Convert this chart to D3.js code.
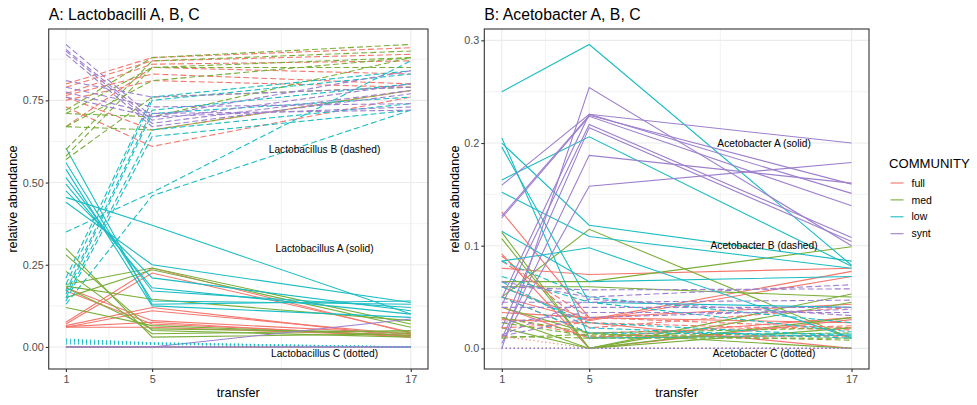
<!DOCTYPE html>
<html>
<head>
<meta charset="utf-8">
<script src="https://cdn.jsdelivr.net/npm/d3@7"></script>
<style>
  body { margin: 0; background: #fff; }
  text { font-family: "Liberation Sans", Arial, sans-serif; }
</style>
</head>
<body>
<svg id="chart" width="977" height="405"></svg>
<script>
// transfers on the x axis and the four communities
var transfers = [1, 5, 17];
var xMinor = [3, 11];
var communities = ["full", "med", "low", "synt"];
var communityColors = ["#F5766D", "#7AAE38", "#1BBDC3", "#9D7FCE"];

var yTicksA = [0, 0.25, 0.5, 0.75];
var yMinorA = [0.125, 0.375, 0.625, 0.875];
var yTicksB = [0, 0.1, 0.2, 0.3];
var yMinorB = [0.05, 0.15, 0.25];

// rows: community, value at transfer 1, 5, 17
var lactoA = [
  ["full", 0.18, 0.08, 0.040], ["full", 0.17, 0.07, 0.035], ["full", 0.075, 0.24, 0.042],
  ["full", 0.07, 0.225, 0.045], ["full", 0.065, 0.12, 0.030], ["full", 0.06, 0.11, 0.038],
  ["full", 0.06, 0.06, 0.034], ["full", 0.062, 0.075, 0.030],
  ["med", 0.30, 0.03, 0.040], ["med", 0.28, 0.05, 0.030], ["med", 0.23, 0.04, 0.050],
  ["med", 0.19, 0.24, 0.070], ["med", 0.185, 0.145, 0.080], ["med", 0.15, 0.235, 0.060],
  ["med", 0.12, 0.065, 0.035], ["med", 0.18, 0.055, 0.045],
  ["low", 0.605, 0.13, 0.14], ["low", 0.56, 0.14, 0.13], ["low", 0.54, 0.125, 0.09],
  ["low", 0.515, 0.17, 0.12], ["low", 0.495, 0.18, 0.10], ["low", 0.475, 0.21, 0.11],
  ["low", 0.455, 0.37, 0.10], ["low", 0.44, 0.25, 0.135],
  ["synt", 0, 0, 0], ["synt", 0, 0, 0], ["synt", 0, 0, 0], ["synt", 0, 0, 0.085]
];
var lactoB = [
  ["full", 0.80, 0.88, 0.91], ["full", 0.79, 0.87, 0.89], ["full", 0.77, 0.86, 0.87],
  ["full", 0.765, 0.83, 0.80], ["full", 0.75, 0.81, 0.79], ["full", 0.73, 0.61, 0.76],
  ["full", 0.67, 0.85, 0.83], ["full", 0.76, 0.66, 0.78],
  ["med", 0.72, 0.88, 0.92], ["med", 0.71, 0.85, 0.88], ["med", 0.67, 0.66, 0.78],
  ["med", 0.67, 0.81, 0.88], ["med", 0.60, 0.87, 0.90], ["med", 0.58, 0.85, 0.85],
  ["med", 0.57, 0.76, 0.79], ["med", 0.71, 0.70, 0.88],
  ["low", 0.35, 0.47, 0.87], ["low", 0.21, 0.76, 0.84], ["low", 0.19, 0.75, 0.83],
  ["low", 0.17, 0.72, 0.80], ["low", 0.16, 0.71, 0.76], ["low", 0.15, 0.66, 0.74],
  ["low", 0.14, 0.64, 0.72], ["low", 0.13, 0.46, 0.72],
  ["synt", 0.92, 0.70, 0.84], ["synt", 0.905, 0.69, 0.80], ["synt", 0.90, 0.68, 0.78],
  ["synt", 0.89, 0.67, 0.77], ["synt", 0.81, 0.76, 0.79], ["synt", 0.79, 0.73, 0.74],
  ["synt", 0.775, 0.71, 0.72], ["synt", 0.76, 0.70, 0.73]
];
var lactoC = [
  ["full", 0, 0, 0], ["med", 0, 0, 0],
  ["low", 0.024, 0.013, 0], ["low", 0.021, 0.012, 0], ["low", 0.018, 0.011, 0],
  ["low", 0.015, 0.010, 0], ["low", 0.012, 0.009, 0], ["low", 0.009, 0.008, 0],
  ["synt", 0, 0, 0]
];

var acetoA = [
  ["full", 0.133, 0.030, 0.043], ["full", 0.092, 0.0, 0.028], ["full", 0.078, 0.072, 0.078],
  ["full", 0.060, 0.028, 0.075], ["full", 0.050, 0.027, 0.070], ["full", 0.040, 0.010, 0.030],
  ["full", 0.035, 0.030, 0.025], ["full", 0.028, 0.025, 0.0],
  ["med", 0.113, 0.0, 0.053], ["med", 0.107, 0.0, 0.030], ["med", 0.065, 0.065, 0.099],
  ["med", 0.060, 0.060, 0.050], ["med", 0.050, 0.116, 0.010], ["med", 0.040, 0.015, 0.0],
  ["med", 0.030, 0.0, 0.045], ["med", 0.020, 0.0, 0.020],
  ["low", 0.250, 0.296, 0.081], ["low", 0.205, 0.010, 0.013], ["low", 0.200, 0.120, 0.085],
  ["low", 0.196, 0.045, 0.040], ["low", 0.164, 0.206, 0.080], ["low", 0.152, 0.109, 0.078],
  ["low", 0.114, 0.065, 0.070], ["low", 0.085, 0.098, 0.010],
  ["synt", 0.159, 0.228, 0.200], ["synt", 0.129, 0.227, 0.160], ["synt", 0.127, 0.226, 0.139],
  ["synt", 0.049, 0.228, 0.151], ["synt", 0.042, 0.218, 0.108], ["synt", 0.020, 0.215, 0.104],
  ["synt", 0.010, 0.188, 0.161], ["synt", 0.005, 0.158, 0.181], ["synt", 0.0, 0.254, 0.100]
];
var acetoB = [
  ["full", 0.090, 0.020, 0.040], ["full", 0.085, 0.030, 0.020], ["full", 0.050, 0.015, 0.022],
  ["full", 0.030, 0.012, 0.012], ["full", 0.020, 0.025, 0.018],
  ["med", 0.030, 0.015, 0.020], ["med", 0.025, 0.012, 0.015], ["med", 0.012, 0.010, 0.010],
  ["med", 0.010, 0.014, 0.008],
  ["low", 0.085, 0.050, 0.025], ["low", 0.070, 0.045, 0.016], ["low", 0.065, 0.020, 0.010],
  ["low", 0.050, 0.015, 0.014], ["low", 0.060, 0.025, 0.012],
  ["synt", 0.065, 0.050, 0.062], ["synt", 0.060, 0.057, 0.058], ["synt", 0.045, 0.045, 0.047],
  ["synt", 0.040, 0.040, 0.040], ["synt", 0.025, 0.035, 0.035], ["synt", 0.013, 0.048, 0.032],
  ["synt", 0.012, 0.030, 0.038]
];
var acetoC = [
  ["med", 0, 0, 0], ["low", 0, 0, 0],
  ["full", 0.012, 0, 0], ["full", 0, 0, 0], ["synt", 0, 0, 0]
];

// annotations: label, transfer, abundance
var labelsA = [
  ["Lactobacillus B (dashed)", 13, 0.6],
  ["Lactobacillus A (solid)", 13, 0.3],
  ["Lactobacillus C (dotted)", 13, -0.02]
];
var labelsB = [
  ["Acetobacter A (solid)", 13, 0.2],
  ["Acetobacter B (dashed)", 13, 0.1],
  ["Acetobacter C (dotted)", 13, -0.005]
];

var svg = d3.select("#chart");
var color = d3.scaleOrdinal().domain(communities).range(communityColors);

var panelTop = 29, panelBottom = 369;

function expand(ext) {
  var pad = (ext[1] - ext[0]) * 0.05;
  return [ext[0] - pad, ext[1] + pad];
}

function drawPanel(p) {
  var g = svg.append("g");
  var allRows = p.series.reduce(function (a, s) { return a.concat(s.rows); }, []);
  var vals = [];
  allRows.forEach(function (r) { r.slice(1).forEach(function (v) { if (v != null) vals.push(v); }); });
  p.labels.forEach(function (l) { vals.push(l[2]); });

  var x = d3.scaleLinear().domain(expand(d3.extent(transfers))).range([p.left, p.right]);
  var y = d3.scaleLinear().domain(expand(d3.extent(vals))).range([panelBottom, panelTop]);

  // grid
  g.selectAll(".minorx").data(xMinor).enter().append("line")
    .attr("x1", d => x(d)).attr("x2", d => x(d))
    .attr("y1", panelTop).attr("y2", panelBottom)
    .attr("stroke", "#EBEBEB").attr("stroke-width", 0.6);
  g.selectAll(".minory").data(p.yMinor).enter().append("line")
    .attr("y1", d => y(d)).attr("y2", d => y(d))
    .attr("x1", p.left).attr("x2", p.right)
    .attr("stroke", "#EBEBEB").attr("stroke-width", 0.6);
  g.selectAll(".majorx").data(transfers).enter().append("line")
    .attr("x1", d => x(d)).attr("x2", d => x(d))
    .attr("y1", panelTop).attr("y2", panelBottom)
    .attr("stroke", "#EBEBEB").attr("stroke-width", 1.1);
  g.selectAll(".majory").data(p.yTicks).enter().append("line")
    .attr("y1", d => y(d)).attr("y2", d => y(d))
    .attr("x1", p.left).attr("x2", p.right)
    .attr("stroke", "#EBEBEB").attr("stroke-width", 1.1);

  var line = d3.line()
    .defined(v => v != null)
    .x((v, i) => x(transfers[i]))
    .y(v => y(v));

  p.series.forEach(function (s) {
    g.append("g").selectAll("path").data(s.rows).enter().append("path")
      .attr("d", d => line(d.slice(1)))
      .attr("fill", "none")
      .attr("stroke", d => color(d[0]))
      .attr("stroke-width", 1.1)
      .attr("stroke-dasharray", s.dash);
  });

  // annotations
  g.selectAll(".ann").data(p.labels).enter().append("text")
    .attr("x", d => x(d[1])).attr("y", d => y(d[2]))
    .attr("dy", "0.35em")
    .attr("text-anchor", "middle")
    .attr("font-size", "10.2px")
    .attr("fill", "#000")
    .text(d => d[0]);

  // border
  g.append("rect")
    .attr("x", p.left).attr("y", panelTop)
    .attr("width", p.right - p.left).attr("height", panelBottom - panelTop)
    .attr("fill", "none").attr("stroke", "#333333").attr("stroke-width", 1.1);

  // axes
  var yAxis = g.append("g").attr("transform", "translate(" + p.left + ",0)")
    .call(d3.axisLeft(y).tickValues(p.yTicks).tickSize(3).tickPadding(2).tickFormat(d3.format(p.fmt)));
  var xAxis = g.append("g").attr("transform", "translate(0," + panelBottom + ")")
    .call(d3.axisBottom(x).tickValues(transfers).tickSize(3).tickPadding(3).tickFormat(d3.format("d")));
  [yAxis, xAxis].forEach(function (a) {
    a.select(".domain").remove();
    a.selectAll(".tick line").attr("stroke", "#333333").attr("stroke-width", 1.1);
    a.selectAll(".tick text").attr("fill", "#4D4D4D").attr("font-size", "10.8px")
      .style("font-family", "'Liberation Sans', Arial, sans-serif");
  });

  // titles
  g.append("text").attr("x", p.left).attr("y", 20)
    .attr("font-size", "15.8px").attr("fill", "#000").text(p.title);
  g.append("text").attr("x", (p.left + p.right) / 2).attr("y", 397)
    .attr("text-anchor", "middle").attr("font-size", "12.7px").attr("fill", "#000").text("transfer");
  g.append("text")
    .attr("transform", "translate(" + p.yTitleX + "," + (panelTop + panelBottom) / 2 + ") rotate(-90)")
    .attr("text-anchor", "middle").attr("font-size", "12.7px").attr("fill", "#000")
    .text("relative abundance");
}

drawPanel({
  title: "A: Lactobacilli A, B, C", left: 48.7, right: 428, yTitleX: 17,
  yTicks: yTicksA, yMinor: yMinorA, fmt: ".2f", labels: labelsA,
  series: [
    { rows: lactoA, dash: null },
    { rows: lactoB, dash: "6,3" },
    { rows: lactoC, dash: "1.2,2.8" }
  ]
});
drawPanel({
  title: "B: Acetobacter A, B, C", left: 484.3, right: 869, yTitleX: 458.5,
  yTicks: yTicksB, yMinor: yMinorB, fmt: ".1f", labels: labelsB,
  series: [
    { rows: acetoA, dash: null },
    { rows: acetoB, dash: "6,3" },
    { rows: acetoC, dash: "1.2,2.8" }
  ]
});

// legend
var legend = svg.append("g");
legend.append("text").attr("x", 889).attr("y", 168)
  .attr("font-size", "13.1px").attr("fill", "#000").text("COMMUNITY");
var items = legend.selectAll(".item").data(communities).enter().append("g")
  .attr("transform", (d, i) => "translate(0," + (183 + i * 16.9) + ")");
items.append("line").attr("x1", 890.5).attr("x2", 903.5)
  .attr("stroke", d => color(d)).attr("stroke-width", 1.1);
items.append("text").attr("x", 911.5).attr("dy", "0.35em")
  .attr("font-size", "10.5px").attr("fill", "#000").text(d => d);
</script>
</body>
</html>
